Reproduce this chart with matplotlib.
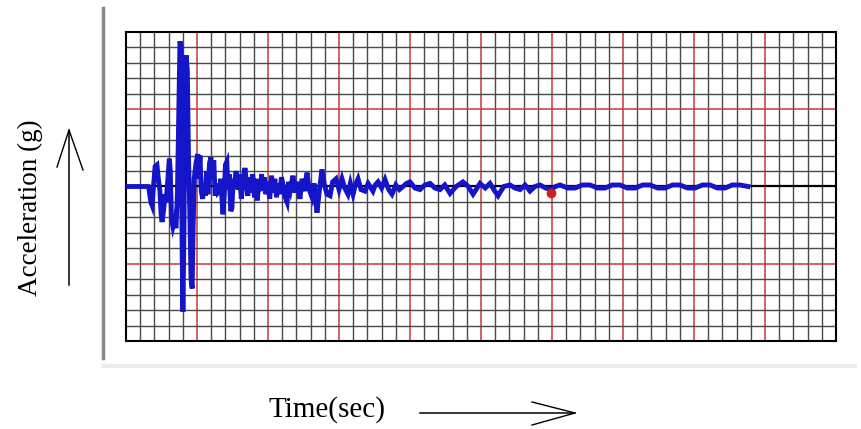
import matplotlib.pyplot as plt
from matplotlib.lines import Line2D
import numpy as np

# digitised accelerogram (time in s, acceleration in g)
time_s = [0.00, 1.55, 1.62, 1.75, 1.83, 1.95, 2.05, 2.18, 2.28, 2.39, 2.47, 2.54,
          2.65, 2.75, 2.82, 2.95, 3.05, 3.12, 3.20, 3.31, 3.42, 3.52, 3.62, 3.73,
          3.80, 3.87, 3.95, 4.01, 4.08, 4.15, 4.23, 4.32, 4.40, 4.50, 4.58, 4.66,
          4.72, 4.80, 4.93, 5.05, 5.13, 5.21, 5.30, 5.40, 5.49, 5.58, 5.68, 5.77,
          5.88, 5.98, 6.08, 6.18, 6.28, 6.40, 6.48, 6.58, 6.68, 6.75, 6.83, 6.92,
          7.00, 7.10, 7.18, 7.26, 7.38, 7.46, 7.55, 7.65, 7.75, 7.89, 8.00, 8.12,
          8.25, 8.38, 8.48, 8.58, 8.68, 8.80, 8.92, 9.05, 9.15, 9.25, 9.35, 9.45,
          9.55, 9.65, 9.75, 9.85, 10.00, 10.12, 10.25, 10.35, 10.48, 10.60, 10.70,
          10.82, 10.95, 11.06, 11.18, 11.34, 11.45, 11.58, 11.76, 11.90, 12.05,
          12.25, 12.40, 12.55, 12.75, 12.90, 13.10, 13.25, 13.45, 13.60, 13.80,
          13.95, 14.15, 14.37, 14.55, 14.79, 15.00, 15.21, 15.40, 15.63, 15.80,
          15.99, 16.15, 16.34, 16.55, 16.83, 17.05, 17.39, 17.55, 17.75, 18.00,
          18.24, 18.50, 18.73, 19.00, 19.25, 19.51, 19.75, 20.00, 20.35, 20.70,
          21.05, 21.41, 21.75, 22.11, 22.45, 22.82, 23.25, 23.73, 24.10, 24.44,
          24.93, 25.30, 25.63, 25.90, 26.20, 26.60, 27.04, 27.40, 27.75, 28.10,
          28.45, 28.80, 29.15, 29.55, 29.93, 30.25, 30.56, 31.10, 31.62, 32.15,
          32.68, 33.20, 33.73, 34.25, 34.79, 35.30, 35.85, 36.40, 36.90, 37.45,
          37.96, 38.50, 39.01, 39.55, 40.07, 40.60, 41.13, 41.65, 42.18, 42.70,
          43.24, 43.80]
accel_g = [0.00, 0.00, -0.02, -0.10, -0.12, 0.02, 0.13, 0.14, 0.05, -0.03, -0.18, -0.23,
           -0.15, -0.05, -0.10, 0.05, 0.18, 0.10, -0.20, -0.26, -0.22, -0.27, -0.05, 0.55,
           0.94, 0.90, -0.40, -0.81, -0.30, 0.60, 0.85, 0.75, 0.20, -0.20, -0.60, -0.66,
           -0.30, 0.05, 0.15, 0.21, 0.05, 0.20, -0.03, -0.08, 0.02, -0.06, 0.10, -0.05,
           0.15, 0.19, 0.05, 0.17, -0.06, 0.02, -0.04, -0.03, 0.05, -0.07, -0.18, -0.05,
           0.14, 0.16, -0.02, 0.08, -0.16, -0.14, 0.05, 0.01, 0.10, -0.02, 0.08, -0.08,
           0.04, 0.12, 0.02, -0.06, 0.06, -0.04, 0.08, -0.07, 0.05, -0.09, 0.03, -0.03,
           0.08, -0.02, 0.06, -0.05, 0.03, -0.08, 0.07, -0.04, 0.05, -0.07, 0.02,
           -0.05, 0.06, 0.01, -0.06, -0.10, 0.03, -0.02, 0.07, -0.04, 0.03,
           -0.08, 0.05, -0.03, 0.09, -0.02, -0.07, 0.02, -0.17, -0.04, 0.11,
           0.02, -0.05, -0.06, 0.03, 0.05, -0.02, 0.05, -0.01, -0.05, 0.02,
           -0.05, 0.01, 0.05, -0.02, -0.03, 0.02, -0.03, 0.01, 0.03, -0.01,
           0.045, -0.02, -0.05, 0.01, -0.02, 0.00, 0.02, 0.03, -0.01, -0.02,
           0.01, 0.02, -0.01, -0.02, 0.01, -0.045, 0.00, 0.03, 0.00, -0.05,
           0.02, -0.01, 0.02, -0.02, -0.06, 0.00, 0.01, -0.01, -0.02, 0.01,
           -0.03, 0.00, 0.01, -0.01, -0.02, 0.00, 0.01, -0.01, -0.01, 0.01,
           0.01, -0.01, -0.01, 0.01, 0.01, -0.01, -0.01, 0.01, 0.01, -0.01,
           -0.01, 0.01, 0.01, -0.01, -0.01, 0.01, 0.01, -0.01, -0.01, 0.01,
           0.01, 0.00]
marker_t = [29.93]
marker_a = [-0.04]

W, H = 861, 429
fig = plt.figure(figsize=(W / 100, H / 100), dpi=100)
fig.patch.set_facecolor("white")

ax = fig.add_axes([126 / W, 1 - 341 / H, 710 / W, 309 / H])
ax.set_xlim(0, 50)
ax.set_ylim(-1, 1)
ax.set_xticks(np.arange(0, 51, 5))
ax.set_xticks(np.arange(0, 51, 1), minor=True)
ax.set_yticks(np.arange(-1, 1.01, 0.5))
ax.set_yticks(np.arange(-1, 1.01, 0.1), minor=True)
ax.tick_params(which="both", length=0, labelbottom=False, labelleft=False)
ax.grid(which="minor", color="#484848", lw=1.0, zorder=0)
ax.grid(which="major", color="#c83838", lw=1.1, zorder=1)
ax.set_axisbelow(True)
ax.axhline(0, color="black", lw=1.6, zorder=2)
for sp in ax.spines.values():
    sp.set_linewidth(1.5)
    sp.set_color("black")

ax.plot(time_s, accel_g, color="#1414c8", lw=3.5, solid_joinstyle="miter", zorder=3)
ax.plot(marker_t, marker_a, "o", color="#cc2020", ms=6, zorder=4)

# panel decoration lines (pixel -> figure coords)
def fx(px):
    return px / W

def fy(py):
    return 1 - py / H

fig.add_artist(Line2D([fx(103), fx(103)], [fy(8), fy(358)], color="#8a8a8a", lw=2.5))
fig.add_artist(Line2D([fx(103), fx(855)], [fy(366), fy(366)], color="#ececec", lw=3))

# axis labels with hand-drawn arrows
fig.text(fx(30), fy(208), "Acceleration (g)", rotation=90, ha="center", va="center",
         fontsize=19.5, family="Liberation Serif")
fig.text(fx(327), fy(410), "Time(sec)", ha="center", va="center",
         fontsize=21, family="Liberation Serif")

fig.add_artist(Line2D([fx(69), fx(69)], [fy(130), fy(285)], color="black", lw=1.1))
fig.add_artist(Line2D([fx(57), fx(69), fx(83)], [fy(167), fy(130), fy(170)], color="black", lw=1.0))
fig.add_artist(Line2D([fx(420), fx(575)], [fy(413), fy(413)], color="black", lw=1.1))
fig.add_artist(Line2D([fx(532), fx(575), fx(532)], [fy(402), fy(413), fy(425)], color="black", lw=1.0))

fig.savefig("out.png", dpi=100)
